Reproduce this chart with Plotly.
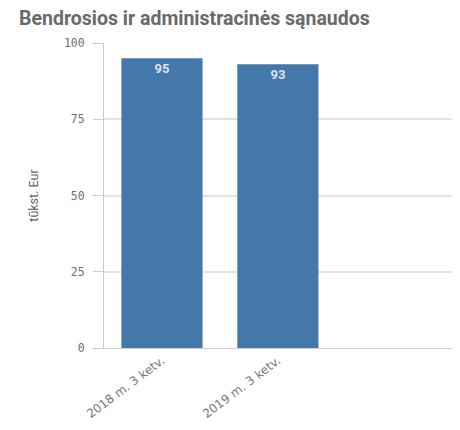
import plotly.graph_objects as go

categories = ["2018 m. 3 ketv.", "2019 m. 3 ketv."]
values = [95, 93]
labels = ["95", "93"]
y_ticks = [0, 25, 50, 75, 100]
y_ticklabels = ["0", "25", "50", "75", "100"]

fig = go.Figure()
fig.add_trace(go.Bar(
    x=categories, y=values, text=labels,
    textposition="inside", insidetextanchor="end",
    textfont=dict(family="Roboto", size=13, color="#dde4ee", weight="bold"),
    marker=dict(color="#4477aa", line=dict(width=0)),
    width=0.7, cliponaxis=False,
))

fig.update_layout(
    width=460, height=430,
    margin=dict(l=96, r=0, t=35, b=90),
    paper_bgcolor="white", plot_bgcolor="white",
    showlegend=False,
    title=dict(text="<b>Bendrosios ir administracinės sąnaudos</b>",
               x=0.024, xanchor="left", y=0.993, yanchor="top", yref="container",
               pad=dict(t=0, b=0, l=0, r=0),
               font=dict(family="Roboto", size=19.5, color="#6a6a6a")),
    xaxis=dict(range=[-0.5, 2.64], showgrid=False, showline=True, linecolor="#cfcfcf",
               linewidth=1, ticks="", tickangle=-37, automargin=False,
               tickfont=dict(family="DejaVu Sans", size=12, color="#777777")),
    yaxis=dict(range=[0, 100], tickvals=y_ticks, ticktext=y_ticklabels,
               showgrid=True, gridcolor="#e3e3e3", gridwidth=1.5,
               showline=True, linecolor="#c8c8c8", linewidth=1,
               ticks="outside", ticklen=10, tickcolor="#cfcfcf",
               ticklabelstandoff=6, automargin=False,
               zeroline=False,
               tickfont=dict(family="DejaVu Sans Mono", size=11.5, color="#6f6f6f"),
               title=dict(text="tūkst. Eur", standoff=22,
                          font=dict(family="Roboto", size=12.5, color="#666666"))),
)

fig.write_html("out.html")
